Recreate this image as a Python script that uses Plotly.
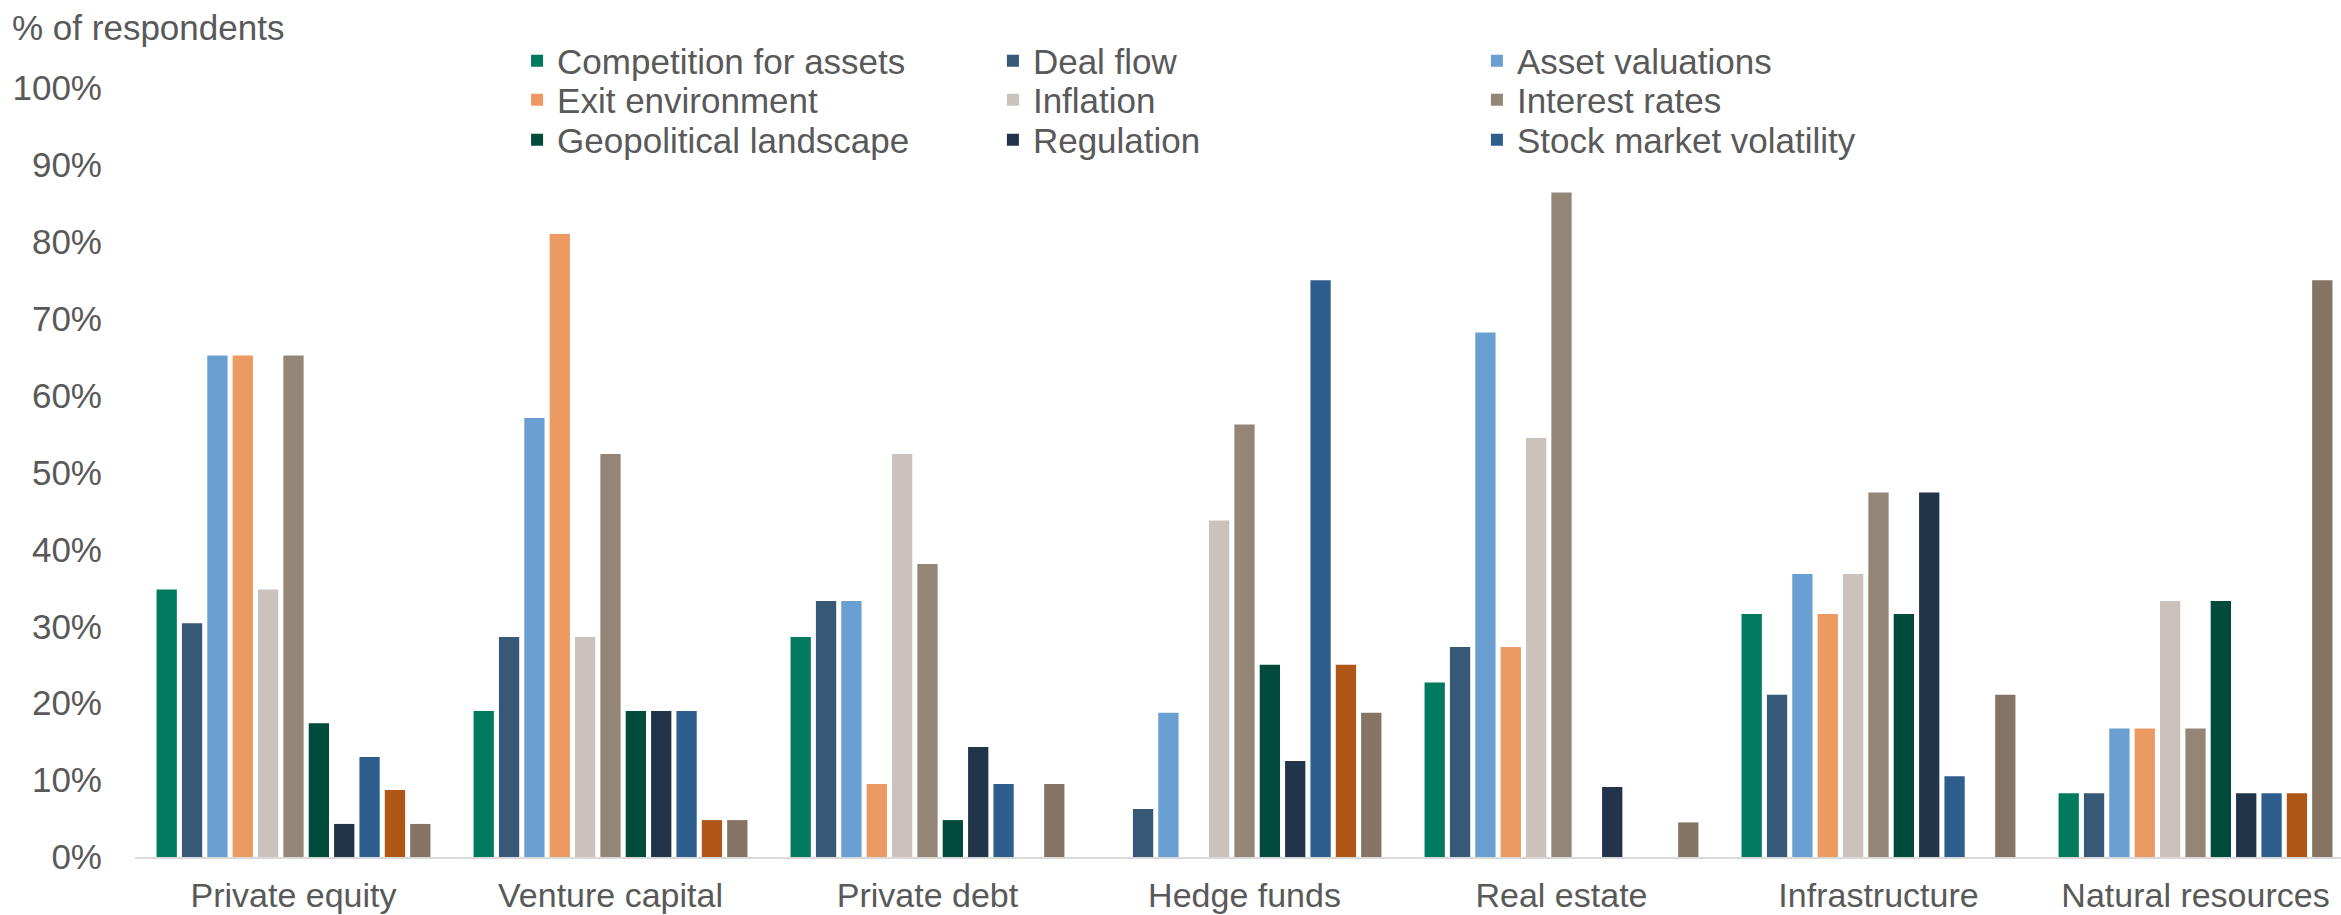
import plotly.graph_objects as go

categories = ["Private equity", "Venture capital", "Private debt", "Hedge funds",
              "Real estate", "Infrastructure", "Natural resources"]

series_names = ["Competition for assets", "Deal flow", "Asset valuations",
                "Exit environment", "Inflation", "Interest rates",
                "Geopolitical landscape", "Regulation", "Stock market volatility",
                "Unlabelled series 10", "Unlabelled series 11"]

# values in % of respondents, one list per series (order of categories above)
competition_for_assets = [34.8, 19.0, 28.6, 0.0, 22.7, 31.6, 8.3]
deal_flow = [30.4, 28.6, 33.3, 6.25, 27.3, 21.1, 8.3]
asset_valuations = [65.2, 57.1, 33.3, 18.75, 68.2, 36.8, 16.7]
exit_environment = [65.2, 81.0, 9.5, 0.0, 27.3, 31.6, 16.7]
inflation = [34.8, 28.6, 52.4, 43.75, 54.5, 36.8, 33.3]
interest_rates = [65.2, 52.4, 38.1, 56.25, 86.4, 47.4, 16.7]
geopolitical_landscape = [17.4, 19.0, 4.8, 25.0, 0.0, 31.6, 33.3]
regulation = [4.3, 19.0, 14.3, 12.5, 9.1, 47.4, 8.3]
stock_market_volatility = [13.0, 19.0, 9.5, 75.0, 0.0, 10.5, 8.3]
unlabelled_10 = [8.7, 4.8, 0.0, 25.0, 0.0, 0.0, 8.3]
unlabelled_11 = [4.3, 4.8, 9.5, 18.75, 4.5, 21.1, 75.0]

series_values = [competition_for_assets, deal_flow, asset_valuations, exit_environment,
                 inflation, interest_rates, geopolitical_landscape, regulation,
                 stock_market_volatility, unlabelled_10, unlabelled_11]

colors = ["#007A5E", "#375977", "#6A9FD1", "#EC9A61", "#CAC2BB", "#948677",
          "#004B3B", "#22344A", "#2D5E8E", "#B05718", "#857463"]

y_ticks = [0, 10, 20, 30, 40, 50, 60, 70, 80, 90, 100]
y_tick_labels = ["0%", "10%", "20%", "30%", "40%", "50%", "60%", "70%", "80%", "90%", "100%"]

FONT = "Liberation Sans, Arial, sans-serif"
TXT = "#595959"

# legend placement (paper coords): 3 columns x 3 rows, one legend per entry
col_x = [0.1732, 0.3889, 0.6083]
row_y = [1.0351, 0.9844, 0.9324]

fig = go.Figure()
legend_ids = []
for i, (name, vals, col) in enumerate(zip(series_names, series_values, colors)):
    show = i < 9
    lid = "legend" if i == 0 else f"legend{i+1}"
    kw = {}
    if show:
        kw["legend"] = lid
        legend_ids.append((i, lid))
    fig.add_trace(go.Bar(
        x=categories, y=vals, name=name, marker_color=col,
        marker_line_width=0, showlegend=show, **kw,
    ))

layout_legends = {}
for i, lid in legend_ids:
    r, c = divmod(i, 3)
    layout_legends[lid] = dict(
        x=col_x[c], y=row_y[r], xanchor="left", yanchor="middle",
        xref="paper", yref="paper", orientation="v",
        font=dict(family=FONT, size=35, color=TXT),
        bgcolor="rgba(0,0,0,0)", borderwidth=0, tracegroupgap=0,
    )

fig.update_layout(
    template="none",
    width=2341, height=915,
    margin=dict(l=135, r=0, t=88, b=58, autoexpand=False),
    paper_bgcolor="white", plot_bgcolor="white",
    barmode="group", bargap=0.12, bargroupgap=0.2,
    font=dict(family=FONT, size=35, color=TXT),
    showlegend=True,
    **layout_legends,
)

fig.update_xaxes(
    range=[-0.5, 6.459], showgrid=False, zeroline=False,
    showline=True, linecolor="#D9D9D9", linewidth=2,
    ticks="outside", ticklen=7, tickcolor="rgba(0,0,0,0)",
    tickfont=dict(family=FONT, size=34, color=TXT), automargin=False,
)
fig.update_yaxes(
    range=[0, 100], tickmode="array", tickvals=y_ticks, ticktext=y_tick_labels,
    showgrid=False, zeroline=False, showline=False,
    ticks="outside", ticklen=25, tickcolor="rgba(0,0,0,0)",
    tickfont=dict(family=FONT, size=35, color=TXT), automargin=False,
)

fig.add_annotation(
    text="% of respondents", xref="paper", yref="paper",
    x=-0.0567, y=1.0793, xanchor="left", yanchor="middle",
    showarrow=False, font=dict(family=FONT, size=35, color=TXT),
)

fig.write_html(
    "out.html",
    config={"displayModeBar": False},
    post_script="document.body.style.margin='0';document.body.style.overflow='hidden';",
)
